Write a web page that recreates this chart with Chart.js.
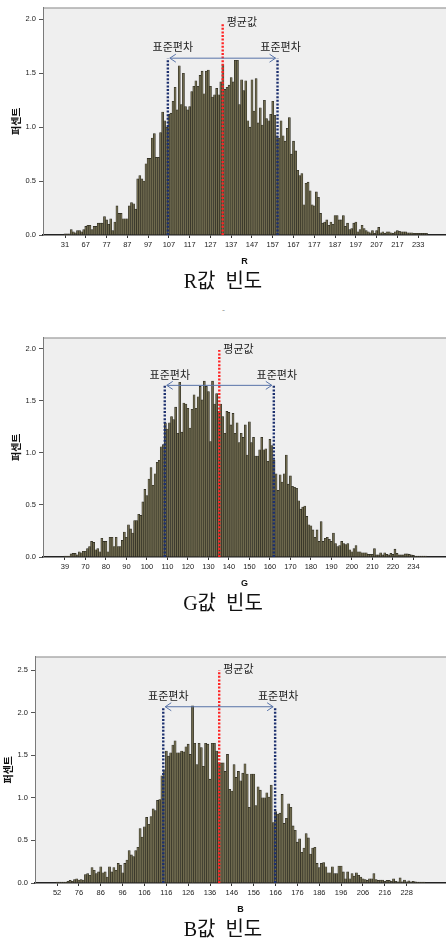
<!DOCTYPE html>
<html lang="ko">
<head>
<meta charset="utf-8">
<title>R G B 빈도</title>
<script src="https://cdn.jsdelivr.net/npm/chart.js@4.4.1/dist/chart.umd.min.js"></script>
<style>
  html, body { margin: 0; padding: 0; background: #fff; }
  body { position: relative; width: 446px; height: 943px; overflow: hidden; }
  canvas { position: absolute; left: 0; }
  #c1 { top: 0; }
  #c2 { top: 330px; }
  #c3 { top: 649px; }
  .dash { position: absolute; left: 222px; top: 305px; font: 9px "Liberation Sans", sans-serif; color: #999; }
</style>
</head>
<body>
<canvas id="c1" width="446" height="295"></canvas>
<div class="dash">-</div>
<canvas id="c2" width="446" height="287"></canvas>
<canvas id="c3" width="446" height="294"></canvas>
<script>
/* R / G / B 값 빈도 히스토그램 (percent per value) */

// ---- R ----
const rValues = [
  31,45,50,53,56,58,60,62,64,65,
  67,68,69,70,71,72,73,74,75,76,
  77,78,79,80,81,82,83,84,85,86,
  87,88,89,90,91,92,93,94,95,96,
  97,98,99,100,101,102,103,104,105,106,
  107,108,109,110,111,112,113,114,115,116,
  117,118,119,120,121,122,123,124,125,126,
  127,128,129,130,131,132,133,134,135,136,
  137,138,139,140,141,142,143,144,145,146,
  147,148,149,150,151,152,153,154,155,156,
  157,158,159,160,161,162,163,164,165,166,
  167,168,169,170,171,172,173,174,175,176,
  177,178,179,180,181,182,183,184,185,186,
  187,188,189,190,191,192,193,194,195,196,
  197,198,199,200,201,202,203,204,205,206,
  207,208,209,210,211,212,213,214,215,216,
  217,219,220,222,224,225,227,229,230,231,
  233,234,235,236,238
];
const rPercent = [
  0.01,0.01,0.01,0.05,0.03,0.02,0.04,0.04,0.03,0.05,
  0.08,0.09,0.09,0.05,0.08,0.08,0.11,0.11,0.11,0.17,
  0.14,0.10,0.15,0.04,0.12,0.27,0.20,0.20,0.15,0.15,
  0.15,0.27,0.30,0.29,0.24,0.52,0.55,0.52,0.50,0.66,
  0.71,0.71,0.90,0.94,0.72,0.72,0.95,1.14,1.06,1.00,
  1.12,1.13,1.24,1.37,1.16,1.57,1.21,1.50,1.19,1.16,
  1.19,1.33,1.38,1.43,1.38,1.48,1.52,1.31,1.52,1.53,
  1.38,1.28,1.30,1.36,1.30,1.42,1.58,1.35,1.37,1.39,
  1.46,1.42,1.62,1.62,1.21,1.44,1.34,1.43,1.06,1.00,
  1.44,1.15,1.45,1.04,1.18,1.02,1.25,1.08,1.06,1.12,
  1.24,1.11,0.92,0.90,1.06,0.92,0.87,0.99,1.09,0.75,
  0.87,0.78,0.60,0.55,0.57,0.28,0.48,0.49,0.41,0.28,
  0.27,0.40,0.35,0.20,0.11,0.12,0.14,0.09,0.12,0.10,
  0.18,0.18,0.14,0.14,0.18,0.08,0.11,0.05,0.06,0.11,
  0.12,0.03,0.05,0.09,0.06,0.04,0.03,0.02,0.04,0.015,
  0.04,0.07,0.02,0.03,0.015,0.03,0.03,0.02,0.015,0.03,
  0.04,0.035,0.03,0.03,0.03,0.02,0.02,0.02,0.015,0.015,
  0.015,0.015,0.015,0.015,0.015
];
const rMean = 132.9, rSd = 26.4;

// ---- G ----
const gValues = [
  39,44,48,52,55,58,61,64,66,68,
  70,71,72,73,74,75,76,77,78,79,
  80,81,82,83,84,85,86,87,88,89,
  90,91,92,93,94,95,96,97,98,99,
  100,101,102,103,104,105,106,107,108,109,
  110,111,112,113,114,115,116,117,118,119,
  120,121,122,123,124,125,126,127,128,129,
  130,131,132,133,134,135,136,137,138,139,
  140,141,142,143,144,145,146,147,148,149,
  150,151,152,153,154,155,156,157,158,159,
  160,161,162,163,164,165,166,167,168,169,
  170,171,172,173,174,175,176,177,178,179,
  180,181,182,183,184,185,186,187,188,189,
  190,191,192,193,194,195,196,197,198,199,
  200,201,202,203,204,205,206,207,208,209,
  210,211,212,213,214,215,216,217,218,219,
  220,221,222,224,225,227,228,230,231,233,
  234,235,236,237,239,240,242
];
const gPercent = [
  0.01,0.01,0.01,0.03,0.035,0.035,0.02,0.05,0.04,0.055,
  0.055,0.08,0.10,0.15,0.14,0.07,0.08,0.05,0.18,0.15,
  0.15,0.05,0.19,0.19,0.10,0.19,0.10,0.10,0.16,0.24,
  0.19,0.31,0.27,0.23,0.35,0.35,0.41,0.40,0.53,0.65,
  0.59,0.75,0.86,0.69,0.80,0.91,0.93,1.06,1.08,1.29,
  1.23,1.29,1.35,1.32,1.44,1.19,1.68,1.20,1.48,1.47,
  1.43,1.24,1.42,1.56,1.43,1.54,1.64,1.51,1.69,1.64,
  1.59,1.11,1.69,1.47,1.57,1.40,1.47,1.35,1.19,1.40,
  1.39,1.27,1.38,1.19,1.29,1.10,1.19,1.15,1.27,0.98,
  1.30,1.10,1.15,0.97,0.97,1.03,1.15,1.03,1.04,0.92,
  1.13,1.07,0.93,0.80,0.64,0.79,0.72,0.80,0.98,0.70,
  0.78,0.68,0.67,0.66,0.54,0.46,0.48,0.49,0.39,0.31,
  0.30,0.26,0.19,0.26,0.15,0.34,0.15,0.18,0.19,0.17,
  0.15,0.23,0.13,0.10,0.11,0.15,0.13,0.12,0.13,0.07,
  0.05,0.08,0.11,0.05,0.05,0.04,0.04,0.04,0.025,0.025,
  0.025,0.08,0.02,0.02,0.04,0.02,0.04,0.025,0.02,0.035,
  0.025,0.075,0.035,0.02,0.02,0.02,0.03,0.03,0.025,0.02,
  0.015,0.01,0.01,0.01,0.01,0.01,0.01
];
const gMean = 135.3, gSd = 26.6;

// ---- B ----
const bValues = [
  52,56,59,62,65,67,69,71,73,74,
  76,77,78,79,80,81,82,83,84,85,
  86,87,88,89,90,91,92,93,94,95,
  96,97,98,99,100,101,102,103,104,105,
  106,107,108,109,110,111,112,113,114,115,
  116,117,118,119,120,121,122,123,124,125,
  126,127,128,129,130,131,132,133,134,135,
  136,137,138,139,140,141,142,143,144,145,
  146,147,148,149,150,151,152,153,154,155,
  156,157,158,159,160,161,162,163,164,165,
  166,167,168,169,170,171,172,173,174,175,
  176,177,178,179,180,181,182,183,184,185,
  186,187,188,189,190,191,192,193,194,195,
  196,197,198,199,200,201,202,203,204,205,
  206,207,208,209,210,211,212,213,214,215,
  216,217,218,219,221,222,223,224,225,226,
  228,229,230,231,232,233,234,235,237
];
const bPercent = [
  0.01,0.01,0.01,0.01,0.01,0.02,0.03,0.02,0.04,0.05,
  0.035,0.04,0.035,0.10,0.11,0.09,0.18,0.15,0.11,0.13,
  0.19,0.12,0.13,0.07,0.19,0.13,0.18,0.15,0.23,0.21,
  0.12,0.23,0.27,0.38,0.33,0.31,0.38,0.42,0.64,0.54,
  0.66,0.77,0.69,0.78,0.87,0.85,0.97,0.98,1.26,1.33,
  1.55,1.49,1.53,1.62,1.67,1.53,1.53,1.55,1.54,1.60,
  1.63,1.51,2.08,1.64,1.39,1.64,1.59,1.37,1.64,1.63,
  1.22,1.64,1.64,1.55,1.41,1.41,1.41,1.31,1.51,1.10,
  1.08,1.39,1.24,1.31,1.20,1.29,1.40,1.28,0.89,1.28,
  1.28,0.91,1.13,1.09,1.00,1.00,1.06,1.01,1.15,0.71,
  0.84,0.81,0.82,1.04,0.70,0.76,0.93,0.89,0.67,0.62,
  0.48,0.52,0.36,0.41,0.58,0.53,0.34,0.41,0.42,0.23,
  0.18,0.23,0.24,0.19,0.12,0.12,0.19,0.11,0.11,0.20,
  0.20,0.13,0.05,0.13,0.05,0.11,0.08,0.12,0.09,0.07,
  0.05,0.04,0.03,0.05,0.05,0.11,0.04,0.03,0.035,0.035,
  0.02,0.03,0.03,0.02,0.05,0.02,0.015,0.06,0.015,0.035,
  0.015,0.025,0.015,0.02,0.015,0.01,0.01,0.01,0.01
];
const bMean = 140.2, bSd = 25.6;

const BAR_FILL = "#6f6a4e";
const BAR_EDGE = "#28271e";

Chart.defaults.font.family = '"Liberation Sans", Arial, sans-serif';

// value (e.g. 132.9) -> fractional position among the category list
function valueToIndex(cats, v) {
  for (let i = 0; i < cats.length - 1; i++) {
    if (v >= cats[i] && v <= cats[i + 1]) return i + (v - cats[i]) / (cats[i + 1] - cats[i]);
  }
  return 0;
}

// gray plot background + top frame line
const frame = {
  id: "frame",
  beforeDraw(chart) {
    const { ctx, chartArea: a } = chart;
    ctx.save();
    ctx.fillStyle = "#efefef";
    ctx.fillRect(a.left, a.top, a.right - a.left, a.bottom - a.top);
    ctx.strokeStyle = "#8a8a8a";
    ctx.lineWidth = 1;
    ctx.beginPath();
    ctx.moveTo(a.left, a.top + 0.5);
    ctx.lineTo(a.right, a.top + 0.5);
    ctx.stroke();
    ctx.restore();
  }
};

// mean / ±sd dotted lines, arrow and labels
function statLines(cats, cfg) {
  return {
    id: "statLines",
    afterDatasetsDraw(chart) {
      const { ctx, scales: { x, y } } = chart;
      const px = v => x.getPixelForValue(valueToIndex(cats, v));
      const mx = px(cfg.mean), lx = px(cfg.mean - cfg.sd), rx = px(cfg.mean + cfg.sd);
      const y0 = y.getPixelForValue(0);
      const yr = y.getPixelForValue(cfg.meanTop);
      const yb = y.getPixelForValue(cfg.sdTop);
      ctx.save();
      ctx.lineWidth = 2.4;
      ctx.setLineDash([2, 1.6]);
      ctx.strokeStyle = "#1b2f6e";
      [lx, rx].forEach(xx => {
        ctx.beginPath(); ctx.moveTo(xx, y0); ctx.lineTo(xx, yb); ctx.stroke();
      });
      ctx.strokeStyle = "#ff2424";
      ctx.beginPath(); ctx.moveTo(mx, y0); ctx.lineTo(mx, yr); ctx.stroke();

      ctx.setLineDash([]);
      ctx.lineWidth = 1;
      ctx.strokeStyle = "#5873a8";
      ctx.beginPath();
      ctx.moveTo(lx + 2, yb); ctx.lineTo(rx - 2, yb);
      ctx.moveTo(lx + 8, yb - 4); ctx.lineTo(lx + 2, yb); ctx.lineTo(lx + 8, yb + 4);
      ctx.moveTo(rx - 8, yb - 4); ctx.lineTo(rx - 2, yb); ctx.lineTo(rx - 8, yb + 4);
      ctx.stroke();

      ctx.fillStyle = "#222";
      ctx.font = '11px "Noto Sans CJK KR", sans-serif';
      ctx.textBaseline = "middle";
      ctx.textAlign = "left";
      ctx.fillText("평균값", mx + 4, yr - 1);
      ctx.textAlign = "center";
      ctx.fillText("표준편차", lx + 5, yb - 11);
      ctx.fillText("표준편차", rx + 3, yb - 11);
      ctx.restore();
    }
  };
}

function makeChart(id, cats, vals, cfg) {
  const tickIdx = [];
  for (let i = 0; i < cats.length; i += 10) tickIdx.push(i);

  return new Chart(document.getElementById(id), {
    type: "bar",
    data: {
      datasets: [{
        data: vals.map((v, i) => ({ x: i, y: v })),
        backgroundColor: BAR_FILL,
        borderColor: BAR_EDGE,
        borderWidth: 0.6,
        barPercentage: 1,
        categoryPercentage: 1
      }]
    },
    options: {
      responsive: false,
      animation: false,
      devicePixelRatio: 1,
      layout: { padding: { top: 5, left: 0, right: 0, bottom: 0 } },
      plugins: {
        legend: { display: false },
        tooltip: { enabled: false },
        title: {
          display: true,
          position: "bottom",
          text: cfg.title,
          color: "#111",
          font: { family: '"Liberation Serif", "Noto Sans CJK KR", serif', size: 20, weight: "normal" },
          padding: { top: 0, bottom: 0 }
        }
      },
      scales: {
        x: {
          type: "linear",
          min: cfg.xMin,
          max: cfg.xMax,
          offset: false,
          afterBuildTicks: s => { s.ticks = tickIdx.map(v => ({ value: v })); },
          ticks: {
            autoSkip: false,
            maxRotation: 0,
            padding: 2,
            color: "#222",
            font: { size: 7.5 },
            callback: v => String(cats[v])
          },
          grid: { offset: false, drawOnChartArea: false, drawTicks: true, tickLength: 3, color: "#333" },
          border: { display: true, color: "#222", width: 1.5 },
          title: {
            display: true,
            text: cfg.axis,
            color: "#111",
            font: { size: 9, weight: "bold" },
            padding: { top: 0, bottom: 4 }
          },
          afterFit: s => { s.height = 36; }
        },
        y: {
          min: 0,
          max: cfg.yMax,
          ticks: {
            stepSize: 0.5,
            includeBounds: false,
            padding: 3,
            color: "#222",
            font: { size: 7.5 },
            callback: v => v.toFixed(1)
          },
          grid: { drawOnChartArea: false, drawTicks: true, tickLength: 4, color: "#555" },
          border: { display: true, color: "#7a7a7a", width: 1 },
          title: {
            display: true,
            text: "퍼센트",
            color: "#111",
            font: { family: '"Noto Sans CJK KR", sans-serif', size: 10, weight: "bold" },
            padding: { top: cfg.yTitlePad, bottom: 0 }
          },
          afterFit: s => { s.width = cfg.left; }
        }
      }
    },
    plugins: [frame, statLines(cats, cfg)]
  });
}

makeChart("c1", rValues, rPercent, {
  title: "R값  빈도", axis: "R", yMax: 2.11, left: 43, yTitlePad: 10,
  xMin: -10.6, xMax: 183.4, mean: rMean, sd: rSd, meanTop: 1.97, sdTop: 1.64
});
makeChart("c2", gValues, gPercent, {
  title: "G값  빈도", axis: "G", yMax: 2.11, left: 43, yTitlePad: 10,
  xMin: -10.7, xMax: 185.9, mean: gMean, sd: gSd, meanTop: 1.99, sdTop: 1.65
});
makeChart("c3", bValues, bPercent, {
  title: "B값  빈도", axis: "B", yMax: 2.66, left: 35, yTitlePad: 2,
  xMin: -10.1, xMax: 178, mean: bMean, sd: bSd, meanTop: 2.5, sdTop: 2.07
});
</script>
</body>
</html>
